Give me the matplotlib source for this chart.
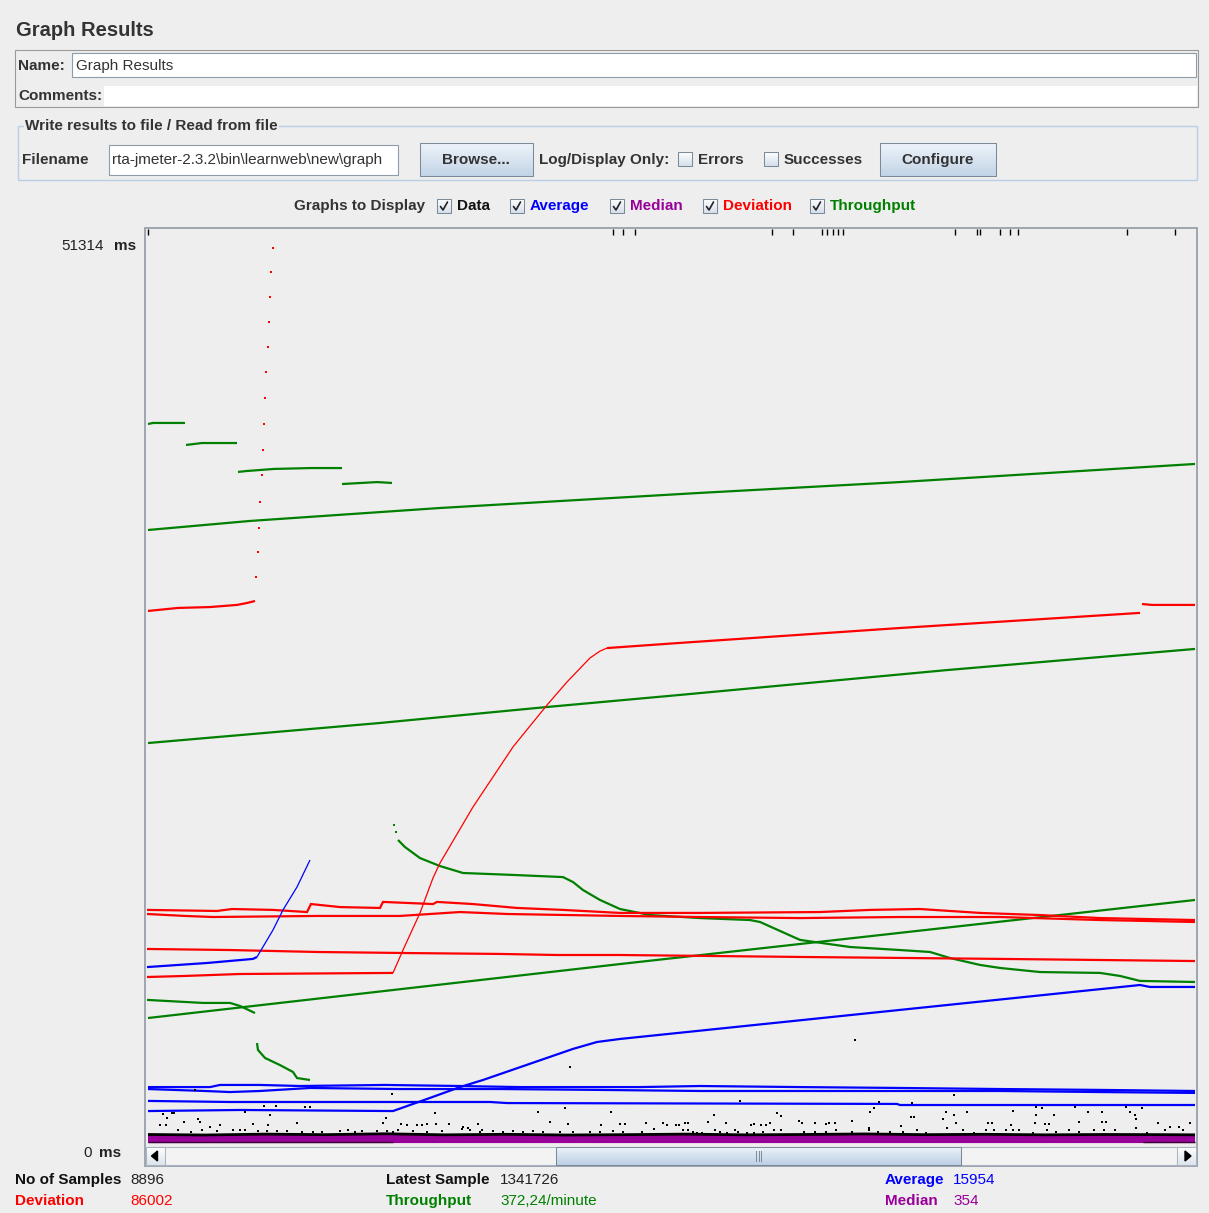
import matplotlib
matplotlib.use("Agg")
import matplotlib.pyplot as plt
import numpy as np
from matplotlib.patches import Rectangle, Polygon
from matplotlib.colors import to_rgb

plt.rcParams['font.family'] = ['Liberation Sans', 'DejaVu Sans']

# ---------------- DATA (x = sample column, y = milliseconds) ----------------
Y_MAX_MS = 51314
tp_step1_x = [3, 8, 40];                 tp_step1_ms = [40500, 40560, 40560]
tp_step2_x = [41, 57, 92];               tp_step2_ms = [39320, 39430, 39430]
tp_step3_x = [93, 101, 129, 166, 197];   tp_step3_ms = [37800, 37850, 37970, 38020, 38020]
tp_step4_x = [197, 232, 247];            tp_step4_ms = [37120, 37230, 37180]
tp_high_x = [3, 105, 295, 555, 755, 1050]
tp_high_ms = [34530, 35040, 35770, 36620, 37230, 38250]
tp_mid_x = [3, 235, 402, 535, 802, 1050]
tp_mid_ms = [22530, 23660, 24560, 25240, 26640, 27830]
tp_fall_x = [253, 260, 275, 295, 318, 368, 418, 428, 438, 455, 475, 505, 555, 605,
             615, 655, 705, 755, 785, 805, 835, 855, 895, 955, 975, 995, 1050]
tp_fall_ms = [17070, 16670, 16050, 15600, 15210, 15100, 14980, 14700, 14250, 13690,
              13180, 12840, 12670, 12560, 12450, 11440, 11040, 10870, 10760, 10420,
              10030, 9860, 9630, 9580, 9410, 9130, 9070]
tp_fall_dots_x = [249, 251];             tp_fall_dots_ms = [17910, 17520]
tp_low_x = [3, 475, 1050];               tp_low_ms = [7040, 10080, 13690]
tp_start_x = [2, 58, 85, 95, 110];       tp_start_ms = [8060, 7890, 7890, 7720, 7320]
tp_drop_x = [112, 113, 120, 135, 148, 152, 165]
tp_drop_ms = [5630, 5240, 4790, 4390, 4000, 3660, 3550]

dev_spike_x = [3, 33, 65, 92, 102, 110]
dev_spike_ms = [29970, 30140, 30190, 30310, 30420, 30530]
dev_spike_dots_x = [111, 113, 114, 115, 117, 118, 119, 120, 121, 123, 124, 125, 126, 128]
dev_spike_dots_ms = [31880, 33290, 34640, 36110, 37630, 39040, 40500, 41970, 43430,
                     44840, 46250, 47660, 49060, 50420]
dev_flat_x = [2, 40, 95, 248];          dev_flat_ms = [9350, 9410, 9520, 9580]
dev_rise_x = [248, 258, 275, 288, 295, 328, 368, 402, 422, 445, 455, 462]
dev_rise_ms = [9580, 10870, 12960, 14930, 15770, 18930, 22310, 24670, 25970, 27320, 27710, 27880]
dev_plateau_x = [462, 535, 755, 995];   dev_plateau_ms = [27880, 28170, 29010, 29860]
dev_tail_x = [997, 1007, 1050];         dev_tail_ms = [30360, 30310, 30310]
dev_mid_x = [2, 85, 172, 262, 355, 412, 475, 655, 855, 1050]
dev_mid_ms = [10930, 10870, 10760, 10700, 10650, 10590, 10590, 10480, 10370, 10250]
dev_band_a_x = [2, 72, 87, 128, 162, 166, 195, 235, 238, 288, 292, 328, 372, 418, 475,
                555, 675, 725, 775, 835, 895, 955, 1050]
dev_band_a_ms = [13130, 13070, 13180, 13130, 13010, 13460, 13290, 13240, 13580, 13460,
                 13580, 13460, 13240, 13130, 12960, 12960, 13010, 13130, 13180, 12960,
                 12840, 12670, 12560]
dev_band_b_x = [2, 40, 68, 172, 255, 315, 362, 475, 555, 655, 755, 855, 955, 1050]
dev_band_b_ms = [12900, 12790, 12730, 12790, 12790, 13010, 12900, 12790, 12730, 12670,
                 12730, 12730, 12560, 12450]

avg_ramp_x = [2, 62, 108, 112];          avg_ramp_ms = [9910, 10140, 10370, 10480]
avg_steep_x = [112, 128, 138, 152, 165]; avg_steep_ms = [10480, 12000, 13130, 14420, 15940]
avg_rise_x = [3, 95, 248, 285, 315, 338, 428, 452, 475, 995, 1005, 1050]
avg_rise_ms = [1800, 1860, 1800, 2540, 3150, 3550, 5300, 5690, 5860, 8900, 8790, 8790]
avg_flat_x = [3, 85, 345, 362, 752, 755, 1050]
avg_flat_ms = [2370, 2310, 2310, 2250, 2200, 2140, 2140]
avg_band_a_x = [3, 65, 75, 115, 155, 240, 315, 375, 495, 555, 655, 755, 855, 955, 1050]
avg_band_a_ms = [3150, 3150, 3270, 3270, 3210, 3270, 3210, 3150, 3150, 3210, 3150, 3100,
                 3040, 2990, 2930]
avg_band_b_x = [3, 60, 85, 115, 165, 255, 355, 455, 555, 655, 755, 855, 955, 1050]
avg_band_b_ms = [3040, 2930, 2870, 2930, 3100, 3040, 3040, 2990, 2930, 2930, 2930, 2930,
                 2870, 2820]

median_x = [3, 1050]
median_hi_ms = [354, 354]
median_lo_ms = [110, 110]

data_base_x = [3, 60, 120, 180, 240, 300, 360, 420, 480, 540, 600, 660, 720, 780, 840,
               900, 960, 1020, 1050]
data_base_ms = [480, 450, 500, 470, 520, 460, 490, 450, 470, 500, 460, 480, 510, 470,
                490, 460, 480, 470, 460]
data_low1_x = [3, 248];   data_low1_ms = [60, 60]
data_low2_x = [998, 1050]; data_low2_ms = [60, 60]

data_x = [50, 247, 100, 119, 131, 160, 165, 18, 27, 29, 125, 241, 290, 393, 420, 466, 22,
          39, 53, 55, 15, 21, 65, 75, 108, 123, 152, 238, 256, 262, 272, 277, 282, 291,
          304, 318, 323, 333, 337, 405, 423, 456, 475, 480, 425,
          33, 46, 57, 72, 88, 95, 100, 113, 122, 132, 142, 157, 168, 177, 195, 203, 210,
          217, 232, 242, 248, 253, 268, 282, 297, 317, 325, 335, 348, 358, 368, 378, 388,
          398, 415, 428, 445, 455, 468, 478,
          809, 595, 734, 767, 569, 632, 636, 729, 725, 801, 809, 822, 868, 891, 897, 891,
          909, 930, 943, 957, 981, 985, 990, 997, 766, 769, 501, 518, 522, 531, 534, 540,
          543, 563, 581, 606, 609, 616, 621, 625, 654, 657, 670, 681, 684, 690, 707, 724,
          756, 798, 811, 843, 847, 866, 890, 900, 904, 934, 957, 961, 991, 1013, 1025,
          1034, 1045, 710,
          497, 509, 538, 543, 548, 552, 557, 570, 575, 582, 590, 593, 602, 609, 618, 629,
          636, 659, 670, 681, 691, 707, 724, 733, 745, 758, 772, 781, 802, 818, 829, 841,
          849, 861, 868, 874, 888, 902, 911, 924, 934, 949, 959, 970, 991, 1002, 1020, 1038]
data_ms = [2990, 2760, 1750, 2080, 2080, 2030, 2030, 1630, 1690, 1690, 1580, 1410, 1690,
           1750, 1970, 1750, 1410, 1180, 1350, 1180, 1010, 1010, 900, 1010, 1070, 1010,
           1130, 1130, 1070, 1010, 1010, 1010, 1070, 1070, 1070, 900, 850, 1070, 730, 1180,
           1070, 1010, 1070, 1070, 4280,
           730, 620, 730, 680, 730, 730, 730, 680, 680, 680, 680, 620, 620, 620, 680, 730,
           620, 680, 680, 680, 620, 730, 680, 620, 680, 790, 730, 620, 680, 620, 680, 620,
           680, 620, 620, 620, 620, 620, 680, 620,
           2700, 2370, 2310, 2250, 1580, 1690, 1520, 1970, 1750, 1750, 1580, 1750, 1800,
           2030, 1970, 1580, 1580, 2030, 1750, 1750, 2030, 1750, 1580, 1970, 1460, 1460,
           1130, 1130, 1010, 1010, 1010, 1130, 1130, 1180, 1130, 1010, 1070, 1010, 1010,
           1130, 1240, 1130, 1130, 1070, 1130, 1130, 1240, 850, 960, 1350, 1130, 1130,
           1130, 1010, 1130, 1070, 1070, 1180, 1180, 1180, 1350, 1130, 900, 900, 1130, 5800,
           620, 790, 730, 730, 620, 560, 560, 730, 620, 560, 730, 620, 560, 560, 620, 730,
           730, 620, 620, 620, 730, 620, 730, 620, 620, 620, 730, 560, 850, 730, 560, 730,
           730, 730, 730, 730, 560, 730, 620, 730, 620, 730, 730, 730, 850, 560, 730, 730]
data_top_x = [3, 468, 478, 490, 627, 648, 677, 682, 688, 693, 698, 810, 832, 835, 855,
              865, 873, 982, 1030]
data_top_ms = [51314, 51314, 51314, 51314, 51314, 51314, 51314, 51314, 51314, 51314,
               51314, 51314, 51314, 51314, 51314, 51314, 51314, 51314, 51314]

stat_labels = ["No of Samples", "Deviation", "Latest Sample", "Throughput", "Average", "Median"]
stat_values = ["8896", "86002", "1341726", "372,24/minute", "15954", "354"]

# ---------------- COLOURS ----------------
BG = '#EEEEEE'
C_DATA, C_AVG, C_MED, C_DEV, C_TP = '#000000', '#0000FF', '#990099', '#FF0000', '#008000'
TXT = '#333333'

W, H = 1209, 1213
fig = plt.figure(figsize=(W / 100, H / 100), dpi=100)
fig.patch.set_facecolor(BG)

ui = fig.add_axes([0, 0, 1, 1])
ui.axis('off')


def box(x0, y0, x1, y1, fc='none', ec='#8E8E8E', lw=0.75, z=1):
    ui.add_patch(Rectangle((x0, y0), x1 - x0, y1 - y0, facecolor=fc, edgecolor=ec,
                           lw=lw, zorder=z))


def grad(x0, y0, x1, y1, ctop, cbot, ec='#7A8A99', z=2):
    g = np.linspace(0, 1, 64)[:, None, None]
    img = np.array(to_rgb(ctop))[None, None, :] * (1 - g) + np.array(to_rgb(cbot))[None, None, :] * g
    ui.imshow(img, extent=(x0, x1, y1, y0), aspect='auto', zorder=z, interpolation='bilinear')
    box(x0, y0, x1, y1, ec=ec, z=z + 0.5)


def label(x, y, s, color=TXT, bold=False, size=11, ha='left', bg=None):
    kw = {}
    if bg is not None:
        kw['bbox'] = dict(facecolor=bg, edgecolor='none', pad=1)
    ui.text(x, y, s, color=color, fontsize=size, fontweight='bold' if bold else 'normal',
            ha=ha, va='center', zorder=6, **kw)


def checkbox(x, y, checked=True):
    grad(x, y, x + 14, y + 14, '#FFFFFF', '#D5DFEA', ec='#7A8A99', z=3)
    if checked:
        ui.plot([x + 3.5, x + 6, x + 10.5], [y + 7.5, y + 11, y + 3], color='#222222',
                lw=1.2, zorder=5, solid_capstyle='round')


# Title
label(16, 31, "Graph Results", color='#333333', bold=True, size=14.5)

# Name / comments panel
box(15, 50, 1198, 107, ec='#9A9A9A', lw=0.8)
box(72, 53, 1196, 77, fc='white', ec='#8E9BA8', lw=0.8)
box(104, 86, 1197, 106, fc='white', ec='none')
label(18, 66, "Name:", bold=True)
label(76, 66, "Graph Results")
label(18, 96, "Comments:", bold=True)

# File group
box(18, 126, 1197, 180, ec='#B8CFE5', lw=1.0)
label(25, 126, "Write results to file / Read from file", bold=True, bg=BG)
label(22, 160, "Filename", bold=True)
box(109, 145, 398, 175, fc='white', ec='#8E9BA8', lw=0.8)
label(112, 160, "rta-jmeter-2.3.2\\bin\\learnweb\\new\\graph")
grad(420, 143, 533, 176, '#EEF3F9', '#C2D4E7')
label(476, 160, "Browse...", bold=True, ha='center')
label(539, 160, "Log/Display Only:", bold=True)
checkbox(678, 152, checked=False)
label(698, 160, "Errors", bold=True)
checkbox(764, 152, checked=False)
label(784, 160, "Successes", bold=True)
grad(880, 143, 996, 176, '#EEF3F9', '#C2D4E7')
label(938, 160, "Configure", bold=True, ha='center')

# Graphs to display row
label(294, 206, "Graphs to Display", bold=True)
for cx, tx, name, col in [(437, 457, "Data", '#111111'), (510, 530, "Average", C_AVG),
                          (610, 630, "Median", C_MED), (703, 723, "Deviation", C_DEV),
                          (810, 830, "Throughput", C_TP)]:
    checkbox(cx, 199, checked=True)
    label(tx, 206, name, color=col, bold=True)

# Graph frame + scrollbar
box(145, 228, 1197, 1166, fc=BG, ec='#9EA6B0', lw=1.4, z=0.5)
box(146, 1147, 1196, 1165, fc='#F3F3F3', ec='#A8B4C0', lw=0.8, z=1)
grad(146, 1147, 165, 1165, '#FFFFFF', '#DCE4EC', ec='#A8B4C0')
ui.add_patch(Polygon([[151.5, 1156], [157.5, 1151], [157.5, 1161]], closed=True, color='black', zorder=5))
grad(1177, 1147, 1196, 1165, '#FFFFFF', '#DCE4EC', ec='#A8B4C0')
ui.add_patch(Polygon([[1191, 1156], [1185, 1151], [1185, 1161]], closed=True, color='black', zorder=5))
grad(556, 1147, 961, 1165, '#EDF2F8', '#BCD0E5', ec='#7A8A99')
for gx in (756, 758.5, 761):
    ui.plot([gx, gx], [1151, 1161], color='#7A8A99', lw=0.7, zorder=5)

# Y labels
label(61, 246, "51314", color='#222222')
label(114, 246, "ms", color='#222222', bold=True)
label(83, 1153, "0", color='#222222')
label(99, 1153, "ms", color='#222222', bold=True)

# Bottom statistics
stat_pos = [(15, 130, 1180, '#111111'), (15, 130, 1201, C_DEV),
            (386, 500, 1180, '#111111'), (386, 500, 1201, C_TP),
            (885, 953, 1180, C_AVG), (885, 953, 1201, C_MED)]
for (lx, vx, yy, col), lab, val in zip(stat_pos, stat_labels, stat_values):
    label(lx, yy, lab, color=col, bold=True)
    label(vx, yy, val, color=('#222222' if col == '#111111' else col))

ui.set_xlim(0, W)
ui.set_ylim(H, 0)

# ---------------- GRAPH ----------------
ax = fig.add_axes([145 / W, 1 - 1146 / H, (1197 - 145) / W, (1146 - 228) / H])
ax.patch.set_alpha(0)
ax.axis('off')
ax.set_xlim(0, 1052)
ax.set_ylim(-169, 51542)

LW = 1.6


def line(xs, ys, col, lw=LW, z=2):
    ax.plot(xs, ys, color=col, lw=lw, zorder=z, solid_joinstyle='miter', solid_capstyle='butt')


def dots(xs, ys, col, ms=1.8, z=6, marker='s'):
    ax.plot(xs, ys, linestyle='none', marker=marker, markersize=ms, color=col,
            markeredgewidth=0, zorder=z)


# Throughput
for xs, ys in [(tp_step1_x, tp_step1_ms), (tp_step2_x, tp_step2_ms), (tp_step3_x, tp_step3_ms),
               (tp_step4_x, tp_step4_ms), (tp_high_x, tp_high_ms), (tp_mid_x, tp_mid_ms),
               (tp_fall_x, tp_fall_ms), (tp_low_x, tp_low_ms), (tp_start_x, tp_start_ms),
               (tp_drop_x, tp_drop_ms)]:
    line(xs, ys, C_TP, z=2)
dots(tp_fall_dots_x, tp_fall_dots_ms, C_TP, ms=2.0, z=2)

# Deviation
for xs, ys in [(dev_spike_x, dev_spike_ms), (dev_flat_x, dev_flat_ms),
               (dev_plateau_x, dev_plateau_ms), (dev_tail_x, dev_tail_ms),
               (dev_mid_x, dev_mid_ms), (dev_band_a_x, dev_band_a_ms), (dev_band_b_x, dev_band_b_ms)]:
    line(xs, ys, C_DEV, z=3)
line(dev_rise_x, dev_rise_ms, C_DEV, lw=0.9, z=3)
dots(dev_spike_dots_x, dev_spike_dots_ms, C_DEV, ms=1.8, z=3)

# Average
for xs, ys in [(avg_ramp_x, avg_ramp_ms), (avg_rise_x, avg_rise_ms), (avg_flat_x, avg_flat_ms),
               (avg_band_a_x, avg_band_a_ms), (avg_band_b_x, avg_band_b_ms)]:
    line(xs, ys, C_AVG, z=4)
line(avg_steep_x, avg_steep_ms, C_AVG, lw=0.9, z=4)

# Median
line(median_x, median_hi_ms, C_MED, lw=3.0, z=5)
line(median_x, median_lo_ms, C_MED, lw=3.0, z=5)

# Data
line(data_base_x, data_base_ms, C_DATA, lw=2.0, z=6)
line(data_low1_x, data_low1_ms, '#3a003a', lw=1.0, z=6)
line(data_low2_x, data_low2_ms, '#3a003a', lw=1.0, z=6)
dots(data_x, data_ms, C_DATA, ms=1.8, z=7)
dots(data_top_x, data_top_ms, C_DATA, ms=4, z=7, marker='|')
ax.lines[-1].set_markeredgewidth(1.0)

fig.savefig("out.png", dpi=100, facecolor=BG)
